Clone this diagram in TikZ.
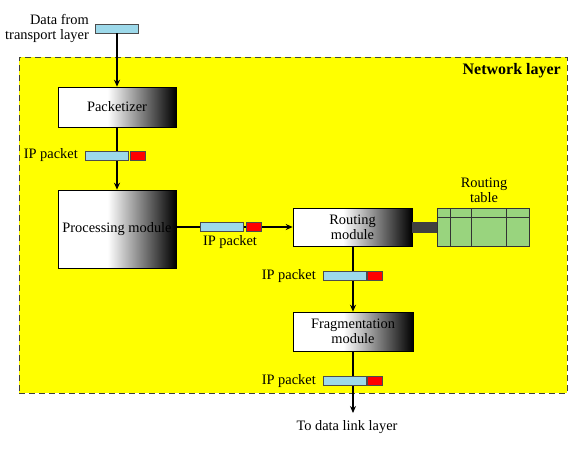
\documentclass[tikz,border=0pt]{standalone}
\usepackage{fontspec}
\setmainfont{Liberation Serif}
\usetikzlibrary{arrows.meta}
\definecolor{pktblue}{HTML}{9DD9EA}
\definecolor{pktred}{HTML}{FF0000}
\definecolor{tblgreen}{HTML}{99D47E}
\definecolor{lyellow}{HTML}{FFFF00}
\pgfdeclarehorizontalshading{modshade}{100bp}{color(0bp)=(white); color(25bp)=(white); color(46bp)=(white); color(75bp)=(black); color(100bp)=(black)}
\begin{document}
\begin{tikzpicture}[x=1pt,y=-1pt,
  font=\fontsize{14.4}{15}\selectfont,
  module/.style={draw=black, line width=0.6pt, shading=modshade, inner sep=0pt, align=center},
  bluepkt/.style={draw=black!70, line width=0.6pt, fill=pktblue, minimum width=43pt, minimum height=9pt, inner sep=0pt},
  redpkt/.style={draw=black!70, line width=0.6pt, fill=pktred, minimum width=15pt, minimum height=9pt, inner sep=0pt},
  lbl/.style={inner sep=0pt, align=right},
  arr/.style={line width=1.2pt, -{Stealth[length=7pt,width=6pt]}}]
\useasboundingbox (0,0) rectangle (575,453);
% network layer area
\node (layer) [draw=black!75, line width=0.7pt, dash pattern=on 6pt off 4pt, fill=lyellow,
  minimum width=548pt, minimum height=336pt, inner sep=0pt, anchor=north west] at (19,57) {};
\node (nl) [anchor=east, inner sep=0pt, font=\fontsize{16}{16}\selectfont\bfseries] at (561,71) {Network layer};
% modules
\node (pk) [module, minimum width=118pt, minimum height=40pt] at (117,107) {Packetizer};
\node (pm) [module, minimum width=118pt, minimum height=78pt] at (117,229) {Processing module};
\node (rm) [module, minimum width=119pt, minimum height=38pt] at (352.5,227) {Routing\\module};
\node (fm) [module, minimum width=120pt, minimum height=39pt] at (353,331.5) {Fragmentation\\module};
\node (rt) [draw=black!80, line width=0.8pt, fill=tblgreen, minimum width=92pt, minimum height=38pt, inner sep=0pt] at (483,227) {};
\draw[black!80, line width=0.8pt] (437,217) -- (529,217)
  (450,208) -- (450,246) (471,208) -- (471,246) (506,208) -- (506,246);
\node (rtl) [inner sep=0pt, align=center] at (484,190.5) {Routing\\table};
\draw[line width=11pt, black!75] (rm.east) -- (rt.west);
% data from transport
\node (data) [bluepkt] at (116.5,28.5) {};
\node (datal) [lbl, anchor=east] at (89,28) {Data from\\transport layer};
% arrows
\coordinate (out) at (353,413);
\draw[arr] (data.south -| pk.north) -- (pk.north);
\draw[arr] (pk.south) -- (pm.north);
\draw[arr] (pm.east |- rm.west) -- (rm.west);
\draw[arr] (rm.south -| fm.north) -- (fm.north);
\draw[arr] (fm.south) -- (out);
% packets
\node (b1) [bluepkt] at (106.5,155.5) {};
\node (r1) [redpkt] at (137.5,155.5) {};
\node (l1) [lbl, anchor=east] at (78,155.5) {IP packet};
\node (b2) [bluepkt] at (222,226.5) {};
\node (r2) [redpkt] at (253.5,226.5) {};
\node (l2) [lbl] at (230,242) {IP packet};
\node (b3) [bluepkt] at (345,276) {};
\node (r3) [redpkt] at (375,276) {};
\node (l3) [lbl, anchor=east] at (316,276) {IP packet};
\node (b4) [bluepkt] at (345,381) {};
\node (r4) [redpkt] at (375,381) {};
\node (l4) [lbl, anchor=east] at (316,381) {IP packet};
\node (dl) [inner sep=0pt] at (347,427) {To data link layer};
\end{tikzpicture}
\end{document}
